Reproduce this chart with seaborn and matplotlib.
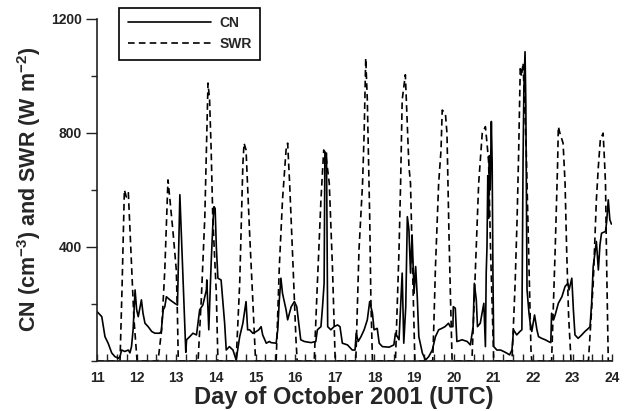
import matplotlib
matplotlib.use("Agg")
import matplotlib.pyplot as plt
import seaborn as sns
from matplotlib.ticker import MultipleLocator

# CN (cm-3)
cn_day = [11.00, 11.12, 11.20, 11.28, 11.37, 11.45, 11.54, 11.58, 11.62, 11.70,
          11.79, 11.83, 11.87, 11.91, 11.96, 12.00, 12.04, 12.12, 12.16, 12.21,
          12.29, 12.38, 12.46, 12.58, 12.62, 12.67, 12.71, 12.75, 12.84, 12.96,
          13.03, 13.09, 13.24, 13.26, 13.34, 13.42, 13.51, 13.59, 13.67, 13.76,
          13.77, 13.82, 13.88, 13.92, 13.95, 13.98, 14.01, 14.05, 14.13, 14.22,
          14.26, 14.34, 14.43, 14.51, 14.60, 14.68, 14.76, 14.80, 14.85, 14.93,
          15.02, 15.08, 15.14, 15.18, 15.27, 15.35, 15.39, 15.52, 15.56, 15.60,
          15.64, 15.68, 15.77, 15.81, 15.90, 15.98, 16.04, 16.09, 16.14, 16.23,
          16.40, 16.52, 16.56, 16.65, 16.69, 16.73, 16.75, 16.79, 16.82, 16.90,
          16.98, 17.07, 17.13, 17.19, 17.32, 17.44, 17.51, 17.54, 17.59, 17.66,
          17.74, 17.82, 17.88, 17.95, 17.99, 18.07, 18.12, 18.20, 18.37, 18.49,
          18.53, 18.62, 18.70, 18.74, 18.79, 18.83, 18.87, 18.91, 18.95, 19.00,
          19.04, 19.08, 19.12, 19.21, 19.29, 19.37, 19.46, 19.54, 19.62, 19.70,
          19.78, 19.87, 19.91, 19.98, 19.99, 20.04, 20.08, 20.13, 20.21, 20.34,
          20.42, 20.49, 20.52, 20.57, 20.60, 20.67, 20.76, 20.80, 20.82, 20.84,
          20.86, 20.88, 20.90, 20.92, 20.95, 20.97, 20.99, 21.01, 21.09, 21.18,
          21.26, 21.34, 21.41, 21.47, 21.51, 21.59, 21.67, 21.72, 21.75, 21.77,
          21.80, 21.82, 21.85, 21.90, 21.93, 21.97, 22.04, 22.10, 22.14, 22.22,
          22.31, 22.39, 22.45, 22.47, 22.52, 22.56, 22.64, 22.73, 22.81, 22.88,
          22.91, 22.98, 23.02, 23.06, 23.14, 23.23, 23.31, 23.40, 23.44, 23.48,
          23.52, 23.60, 23.65, 23.69, 23.73, 23.83, 23.86, 23.90, 23.94, 23.98]
cn_val = [173, 155, 85, 62, 28, 15, 9, 15, 38, 33,
          38, 28, 50, 109, 249, 179, 155, 214, 167, 132,
          120, 103, 97, 97, 103, 179, 190, 225, 214, 202,
          196, 583, 30, 74, 85, 97, 91, 179, 196, 249,
          284, 109, 344, 471, 541, 535, 401, 290, 284, 132,
          38, 50, 38, 3, 85, 132, 208, 109, 109, 97,
          103, 109, 120, 91, 62, 68, 64, 62, 109, 214,
          290, 237, 179, 144, 190, 208, 190, 132, 74, 68,
          64, 68, 109, 120, 190, 272, 729, 729, 120, 109,
          120, 126, 120, 62, 56, 38, 38, 97, 68, 85,
          109, 144, 208, 167, 109, 114, 62, 50, 48, 56,
          97, 74, 308, 62, 190, 506, 460, 308, 442, 237,
          331, 225, 85, 27, 3, 15, 38, 85, 109, 114,
          120, 132, 120, 120, 190, 185, 68, 70, 74, 68,
          56, 120, 272, 214, 120, 132, 202, 50, 308, 400,
          650, 500, 720, 600, 840, 700, 300, 50, 38, 38,
          33, 27, 21, 38, 109, 91, 103, 109, 700, 950,
          1085, 900, 250, 167, 132, 103, 161, 109, 85, 79,
          74, 68, 64, 167, 144, 161, 202, 225, 261, 272,
          249, 290, 179, 91, 79, 91, 103, 114, 120, 202,
          331, 419, 319, 407, 448, 454, 489, 565, 495, 480]

# SWR (W m-2)
swr_day = [11.00, 11.58, 11.63, 11.69, 11.74, 11.79, 11.85, 11.93, 12.01,
           12.54, 12.63, 12.71, 12.79, 12.84, 12.92, 13.00, 13.03, 13.05,
           13.55, 13.63, 13.72, 13.76, 13.80, 13.84, 13.88, 13.92, 14.01, 14.05,
           14.51, 14.60, 14.68, 14.71, 14.76, 14.85, 14.93, 15.00,
           15.52, 15.60, 15.68, 15.77, 15.81, 15.86, 15.94, 16.02, 16.05,
           16.48, 16.56, 16.65, 16.72, 16.77, 16.86, 16.94, 16.99, 17.01,
           17.53, 17.61, 17.70, 17.74, 17.78, 17.82, 17.86, 17.88, 17.91, 17.95,
           18.53, 18.62, 18.66, 18.70, 18.78, 18.82, 18.87, 18.91, 18.95, 19.02,
           19.47, 19.50, 19.54, 19.62, 19.68, 19.71, 19.79, 19.83, 19.88, 19.92, 19.96,
           20.46, 20.55, 20.63, 20.69, 20.72, 20.80, 20.84, 20.88, 20.93, 21.01,
           21.47, 21.55, 21.60, 21.64, 21.68, 21.71, 21.75, 21.80, 21.83, 21.87,
           21.91, 21.95, 21.97,
           22.47, 22.56, 22.62, 22.64, 22.68, 22.76, 22.81, 22.85, 22.90, 22.96,
           23.40, 23.52, 23.60, 23.65, 23.70, 23.77, 23.80, 23.83, 23.86, 23.90, 24.00]
swr_val = [0, 0, 250, 600, 575, 590, 400, 150, 0,
           0, 109, 319, 635, 565, 448, 319, 155, 0,
           0, 214, 506, 740, 975, 916, 740, 506, 237, 0,
           0, 272, 690, 764, 740, 448, 214, 0,
           0, 331, 565, 740, 764, 623, 354, 74, 0,
           0, 272, 565, 740, 729, 623, 331, 97, 0,
           0, 389, 623, 799, 1062, 916, 647, 506, 214, 0,
           0, 389, 623, 916, 1004, 857, 682, 623, 389, 0,
           0, 133, 331, 623, 740, 880, 869, 799, 448, 214, 0,
           0, 331, 623, 740, 799, 822, 764, 700, 389, 0,
           0, 272, 500, 740, 1033, 998, 1045, 857, 740, 506,
           272, 38, 0,
           0, 389, 682, 822, 799, 764, 623, 389, 155, 0,
           0, 272, 565, 682, 776, 799, 717, 623, 331, 0, 0]

sns.set_style("ticks")
plt.rcParams['font.family'] = ['Liberation Sans', 'DejaVu Sans']
plt.rcParams['font.weight'] = 'bold'
plt.rcParams['mathtext.fontset'] = 'custom'
plt.rcParams['mathtext.rm'] = 'Liberation Sans:bold'
plt.rcParams['mathtext.bf'] = 'Liberation Sans:bold'

fig = plt.figure(figsize=(6.26, 4.11), dpi=100)
ax = fig.add_axes([0.155, 0.122, 0.823, 0.832])

sns.lineplot(x=cn_day, y=cn_val, ax=ax, color='black', lw=1.2,
             sort=False, estimator=None, label='CN')
sns.lineplot(x=swr_day, y=swr_val, ax=ax, color='black', lw=1.2,
             sort=False, estimator=None, label='SWR', dashes=False)
ax.lines[1].set_dashes([4, 2.5])

ax.set_xlim(11, 24)
ax.set_ylim(0, 1200)
ax.set_xticks(range(11, 25))
ax.xaxis.set_minor_locator(MultipleLocator(0.25))
ax.set_yticks([400, 800, 1200])
ax.yaxis.set_minor_locator(MultipleLocator(200))

ax.tick_params(axis='x', which='both', direction='in', length=5, width=1,
               labelsize=10, pad=7, colors='#222222')
ax.tick_params(axis='y', which='major', direction='out', length=8, width=1,
               labelsize=10, pad=3, colors='#222222')
ax.tick_params(axis='y', which='minor', direction='out', length=4, width=1)
sns.despine(ax=ax)
for s in ['left', 'bottom']:
    ax.spines[s].set_linewidth(1.2)
    ax.spines[s].set_color('#222222')

ax.set_xlabel('Day of October 2001 (UTC)', fontsize=17, fontweight='bold')
ax.xaxis.set_label_coords(0.478, -0.073)
ax.set_ylabel(r'CN (cm$^{-3}$) and SWR (W m$^{-2}$)', fontsize=15.5,
              fontweight='bold', labelpad=6)

leg = ax.legend(loc='upper left', bbox_to_anchor=(0.043, 1.032), fontsize=10,
                handlelength=6.0, handletextpad=0.6, labelspacing=0.5,
                borderpad=0.6, borderaxespad=0, fancybox=False, framealpha=1,
                edgecolor='black')
leg.get_frame().set_linewidth(1.2)
for t in leg.get_texts():
    t.set_fontweight('bold')

fig.savefig('out.png', dpi=100)
